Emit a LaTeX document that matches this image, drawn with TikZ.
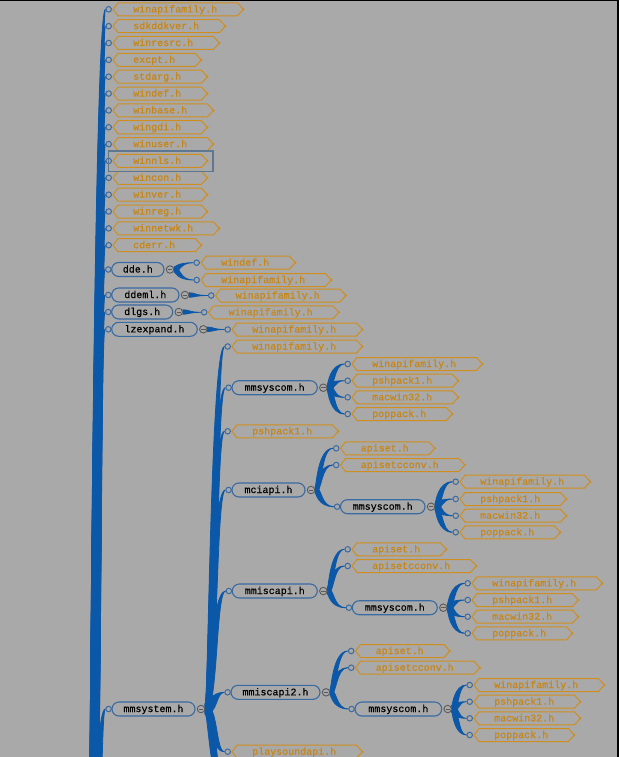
\documentclass[tikz,border=0pt]{standalone}
\usepackage{fontspec}
\setmonofont{Liberation Mono}[FakeBold=0.5]
\usetikzlibrary{calc}
\definecolor{bgc}{RGB}{169,169,169}
\definecolor{brc}{RGB}{12,88,168}
\definecolor{nbc}{RGB}{58,106,162}
\definecolor{lfc}{RGB}{208,142,30}
\definecolor{ltc}{RGB}{200,134,22}
\definecolor{clc}{RGB}{90,90,90}
\definecolor{hlc}{RGB}{95,120,145}
\pgfdeclarelayer{back}
\pgfdeclarelayer{mid}
\pgfsetlayers{back,mid,main}
\tikzset{
 circ/.style={circle,draw=nbc,fill=bgc,line width=1pt,minimum size=5.5pt,inner sep=0pt},
 coll/.style={circle,draw=clc,fill=bgc,line width=0.9pt,minimum size=7.5pt,inner sep=0pt,
   path picture={\draw[clc,line width=0.9pt] ([xshift=-2.2pt]path picture bounding box.center) -- ([xshift=2.2pt]path picture bounding box.center);}},
 leaftext/.style={font=\fontsize{10}{12}\ttfamily, text=ltc, inner sep=0pt, text height=7.5pt, text depth=1.5pt, anchor=west},
 leafbox/.style={draw=lfc, line width=1pt, line join=miter},
 bluenode/.style={draw=nbc, line width=1.1pt, rounded corners=7pt, minimum height=14pt, inner sep=0pt,
   font=\fontsize{10}{12}\ttfamily, text=black, text height=7.5pt, text depth=1.5pt},
}
% leaf: name, x0 (left tip), y, text
\newcommand{\leaf}[4]{%
 \node[circ] (#1-o) at (#2-4.3,#3) {};
 \node[leaftext] (#1) at (#2+20,#3) {#4};
 \draw[leafbox] (#2,#3) -- (#2+5,#3-6.5) -- ($(#1.east)+(20,-6.5)$) -- ($(#1.east)+(26,0)$)
   -- ($(#1.east)+(20,6.5)$) -- (#2+5,#3+6.5) -- cycle;
 \fill[lfc] ($(#1.east)+(26,0)$) circle (1.2);
}
% blue node: name, left, right, y, text
\newcommand{\bnd}[5]{%
 \node[circ] (#1-o) at (#2-3.4,#4) {};
 \node[bluenode, minimum width={(#3-#2)*1pt}] (#1) at ({(#2+#3)/2},#4) {#5};
 \node[coll] (#1-c) at (#3+6,#4) {};
}
% tapered branch: parent, child, ctrl offset, width, sign (+1 child above, -1 below, 0 level)
\newcommand{\branch}[5]{%
 \pgfmathsetmacro\bA{#3-(#5)*(#4)/2}%
 \pgfmathsetmacro\bB{#3+(#5)*(#4)/2}%
 \pgfmathsetmacro\bC{#3-(#5)*(#4)/4}%
 \pgfmathsetmacro\bD{#3+(#5)*(#4)/4}%
 \pgfmathsetmacro\bh{(#4)/2}%
 \path (#1) coordinate (brP);
 \path (#2) coordinate (brC);
 \begin{pgfonlayer}{mid}
 \filldraw[brc, line width=0.8pt, line join=round] let \p1=(brP), \p2=(brC) in
  (\x1,\y1+\bh pt) .. controls (\x1+\bA pt,\y1+\bh pt) and (\x1+\bC pt,\y2) .. (\x2,\y2)
  .. controls (\x1+\bD pt,\y2) and (\x1+\bB pt,\y1-\bh pt) .. (\x1,\y1-\bh pt) -- cycle;
 \end{pgfonlayer}
}
\begin{document}
\begin{tikzpicture}[x=1pt,y=-1pt]
\useasboundingbox (0,0) rectangle (619,757);
\begin{pgfonlayer}{back}
\fill[bgc] (0,0) rectangle (619,757);
\end{pgfonlayer}

% ---------- main column ----------
\coordinate (root) at (88,1000);
\leaf{m1}{113}{9.3}{winapifamily.h}
\leaf{m2}{113}{26.15}{sdkddkver.h}
\leaf{m3}{113}{43.0}{winresrc.h}
\leaf{m4}{113}{59.85}{excpt.h}
\leaf{m5}{113}{76.7}{stdarg.h}
\leaf{m6}{113}{93.55}{windef.h}
\leaf{m7}{113}{110.4}{winbase.h}
\leaf{m8}{113}{127.25}{wingdi.h}
\leaf{m9}{113}{144.1}{winuser.h}
\leaf{m10}{113}{160.95}{winnls.h}
\leaf{m11}{113}{177.8}{wincon.h}
\leaf{m12}{113}{194.65}{winver.h}
\leaf{m13}{113}{211.5}{winreg.h}
\leaf{m14}{113}{228.35}{winnetwk.h}
\leaf{m15}{113}{245.2}{cderr.h}
\bnd{dde}{111.7}{164}{269.5}{dde.h}
\bnd{ddeml}{111.7}{179}{295}{ddeml.h}
\bnd{dlgs}{111.7}{172.7}{312}{dlgs.h}
\bnd{lzx}{111.7}{197.3}{329.3}{lzexpand.h}
\bnd{mms}{112}{195}{709}{mmsystem.h}

\foreach \q in {m1,m2,m3,m4,m5,m6,m7,m8,m9,m10,m11,m12,m13,m14,m15,dde,ddeml,dlgs,lzx,mms}{
  \branch{root}{\q-o.west}{8}{14}{1}
}

% highlight on winnls.h
\draw[hlc, line width=1.8pt] (108.5,151) rectangle (213,171.5);

% ---------- dde.h etc ----------
\leaf{dde1}{201}{262.7}{windef.h}
\leaf{dde2}{201}{280}{winapifamily.h}
\branch{dde-c.east}{dde1-o.west}{4}{5}{1}
\branch{dde-c.east}{dde2-o.west}{4}{5}{-1}
\leaf{ddeml1}{215.5}{295.5}{winapifamily.h}
\branch{ddeml-c.east}{ddeml1-o.west}{6}{4.5}{0}
\leaf{dlgs1}{208.5}{312.3}{winapifamily.h}
\branch{dlgs-c.east}{dlgs1-o.west}{6}{4.5}{0}
\leaf{lzx1}{232}{329.5}{winapifamily.h}
\branch{lzx-c.east}{lzx1-o.west}{6}{4.5}{0}

% ---------- mmsystem.h ----------
\leaf{ms1}{232}{346.5}{winapifamily.h}
\bnd{scA}{232}{317.3}{387.7}{mmsyscom.h}
\leaf{ms3}{232}{431.3}{pshpack1.h}
\bnd{mci}{232}{305}{490}{mciapi.h}
\bnd{misc}{232.3}{317.3}{591}{mmiscapi.h}
\bnd{misc2}{231}{320}{692.3}{mmiscapi2.h}
\leaf{ms7}{232}{751.7}{playsoundapi.h}
\coordinate (msmore) at (228,800);
\foreach \q in {ms1,scA,ms3,mci,misc,misc2}{
  \branch{mms-c.east}{\q-o.west}{8}{10}{1}
}
\branch{mms-c.east}{ms7-o.west}{8}{10}{-1}
\branch{mms-c.east}{msmore}{8}{10}{-1}

% mmsyscom A
\leaf{a1}{352}{364}{winapifamily.h}
\leaf{a2}{352}{380.7}{pshpack1.h}
\leaf{a3}{352}{397.3}{macwin32.h}
\leaf{a4}{352}{414}{poppack.h}
\branch{scA-c.east}{a1-o.west}{4}{7}{1}
\branch{scA-c.east}{a2-o.west}{4}{7}{1}
\branch{scA-c.east}{a3-o.west}{4}{7}{-1}
\branch{scA-c.east}{a4-o.west}{4}{7}{-1}

% mciapi
\leaf{c1}{340.5}{448.3}{apiset.h}
\leaf{c2}{340.5}{465}{apisetcconv.h}
\bnd{scB}{340.5}{425}{506.7}{mmsyscom.h}
\branch{mci-c.east}{c1-o.west}{4}{6}{1}
\branch{mci-c.east}{c2-o.west}{4}{6}{1}
\branch{mci-c.east}{scB-o.west}{4}{6}{-1}
\leaf{b1}{460}{481.7}{winapifamily.h}
\leaf{b2}{460}{499}{pshpack1.h}
\leaf{b3}{460}{515.7}{macwin32.h}
\leaf{b4}{460}{532.3}{poppack.h}
\branch{scB-c.east}{b1-o.west}{4}{7}{1}
\branch{scB-c.east}{b2-o.west}{4}{7}{1}
\branch{scB-c.east}{b3-o.west}{4}{7}{-1}
\branch{scB-c.east}{b4-o.west}{4}{7}{-1}

% mmiscapi
\leaf{d1}{352}{549.3}{apiset.h}
\leaf{d2}{352}{566}{apisetcconv.h}
\bnd{scC}{352.3}{437.3}{607.7}{mmsyscom.h}
\branch{misc-c.east}{d1-o.west}{4}{6}{1}
\branch{misc-c.east}{d2-o.west}{4}{6}{1}
\branch{misc-c.east}{scC-o.west}{4}{6}{-1}
\leaf{e1}{472}{583.3}{winapifamily.h}
\leaf{e2}{472}{600}{pshpack1.h}
\leaf{e3}{472}{616.7}{macwin32.h}
\leaf{e4}{472}{633.3}{poppack.h}
\branch{scC-c.east}{e1-o.west}{4}{7}{1}
\branch{scC-c.east}{e2-o.west}{4}{7}{1}
\branch{scC-c.east}{e3-o.west}{4}{7}{-1}
\branch{scC-c.east}{e4-o.west}{4}{7}{-1}

% mmiscapi2
\leaf{f1}{355.5}{651}{apiset.h}
\leaf{f2}{355.5}{667.7}{apisetcconv.h}
\bnd{scD}{355}{441.7}{709}{mmsyscom.h}
\branch{misc2-c.east}{f1-o.west}{4}{6}{1}
\branch{misc2-c.east}{f2-o.west}{4}{6}{1}
\branch{misc2-c.east}{scD-o.west}{4}{6}{-1}
\leaf{g1}{474}{685}{winapifamily.h}
\leaf{g2}{474}{701.7}{pshpack1.h}
\leaf{g3}{474}{718.3}{macwin32.h}
\leaf{g4}{474}{735}{poppack.h}
\branch{scD-c.east}{g1-o.west}{4}{7}{1}
\branch{scD-c.east}{g2-o.west}{4}{7}{1}
\branch{scD-c.east}{g3-o.west}{4}{7}{-1}
\branch{scD-c.east}{g4-o.west}{4}{7}{-1}

% frame edges
\fill[black] (0,0) rectangle (619,1);
\fill[black] (617,0) rectangle (619,757);
\end{tikzpicture}
\end{document}
